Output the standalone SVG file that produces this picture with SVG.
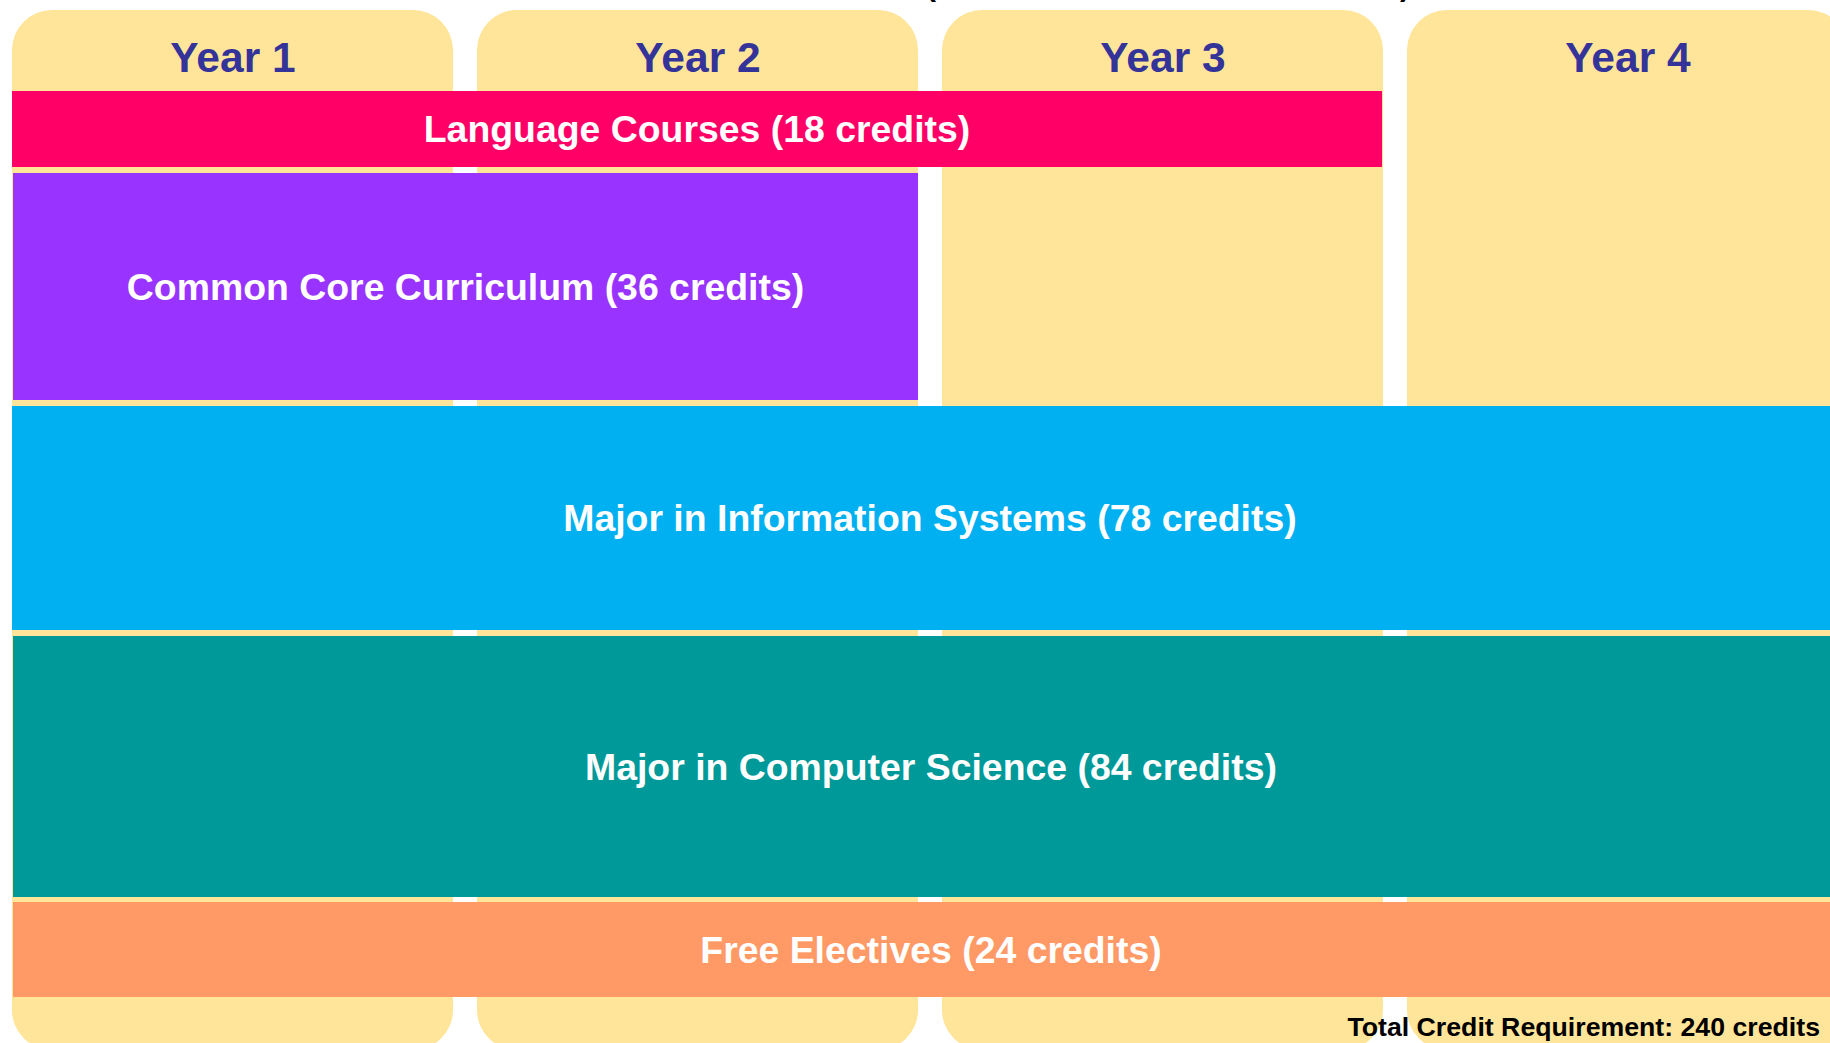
<svg xmlns="http://www.w3.org/2000/svg" width="1830" height="1043" viewBox="0 0 1830 1043">
<style>
.col{fill:#FFE599}
.yr{font-family:"Liberation Sans",Arial,sans-serif;font-weight:bold;font-size:42.5px;fill:#333399;text-anchor:middle}
.lbl{font-family:"Liberation Sans",Arial,sans-serif;font-weight:bold;font-size:37.4px;fill:#FFFFFF;text-anchor:middle}
.tot{font-family:"Liberation Sans",Arial,sans-serif;font-weight:bold;font-size:26.7px;fill:#000000;text-anchor:end}
.ttl{font-family:"Liberation Sans",Arial,sans-serif;font-weight:bold;font-size:30px;fill:#000000}
</style>
<rect width="1830" height="1043" fill="#FFFFFF"/>
<g id="title">
<text class="ttl" x="926" y="-4">(</text>
<text class="ttl" x="1400" y="-4">)</text>
</g>
<g id="year1"><rect class="col" x="12" y="10" width="441" height="1040" rx="40"/><text class="yr" x="233" y="72">Year 1</text></g>
<g id="year2"><rect class="col" x="477" y="10" width="441" height="1040" rx="40"/><text class="yr" x="698" y="72">Year 2</text></g>
<g id="year3"><rect class="col" x="942" y="10" width="441" height="1040" rx="40"/><text class="yr" x="1163" y="72">Year 3</text></g>
<g id="year4"><rect class="col" x="1407" y="10" width="441" height="1040" rx="40"/><text class="yr" x="1628" y="72">Year 4</text></g>
<g id="language"><rect x="12" y="91" width="1370" height="76" fill="#FF0066"/><text class="lbl" x="697" y="142">Language Courses (18 credits)</text></g>
<g id="common-core"><rect x="13" y="173" width="905" height="227" fill="#9933FF"/><text class="lbl" x="465.5" y="300">Common Core Curriculum (36 credits)</text></g>
<g id="major-is"><rect x="12" y="406" width="1836" height="224" fill="#00B0F0"/><text class="lbl" x="930" y="531">Major in Information Systems (78 credits)</text></g>
<g id="major-cs"><rect x="13" y="636" width="1835" height="261" fill="#009999"/><text class="lbl" x="931" y="780">Major in Computer Science (84 credits)</text></g>
<g id="electives"><rect x="13" y="902" width="1835" height="95" fill="#FF9966"/><text class="lbl" x="931" y="963">Free Electives (24 credits)</text></g>
<g id="connectors"></g>
<g id="total"><text class="tot" x="1820" y="1036">Total Credit Requirement: 240 credits</text></g>
</svg>
